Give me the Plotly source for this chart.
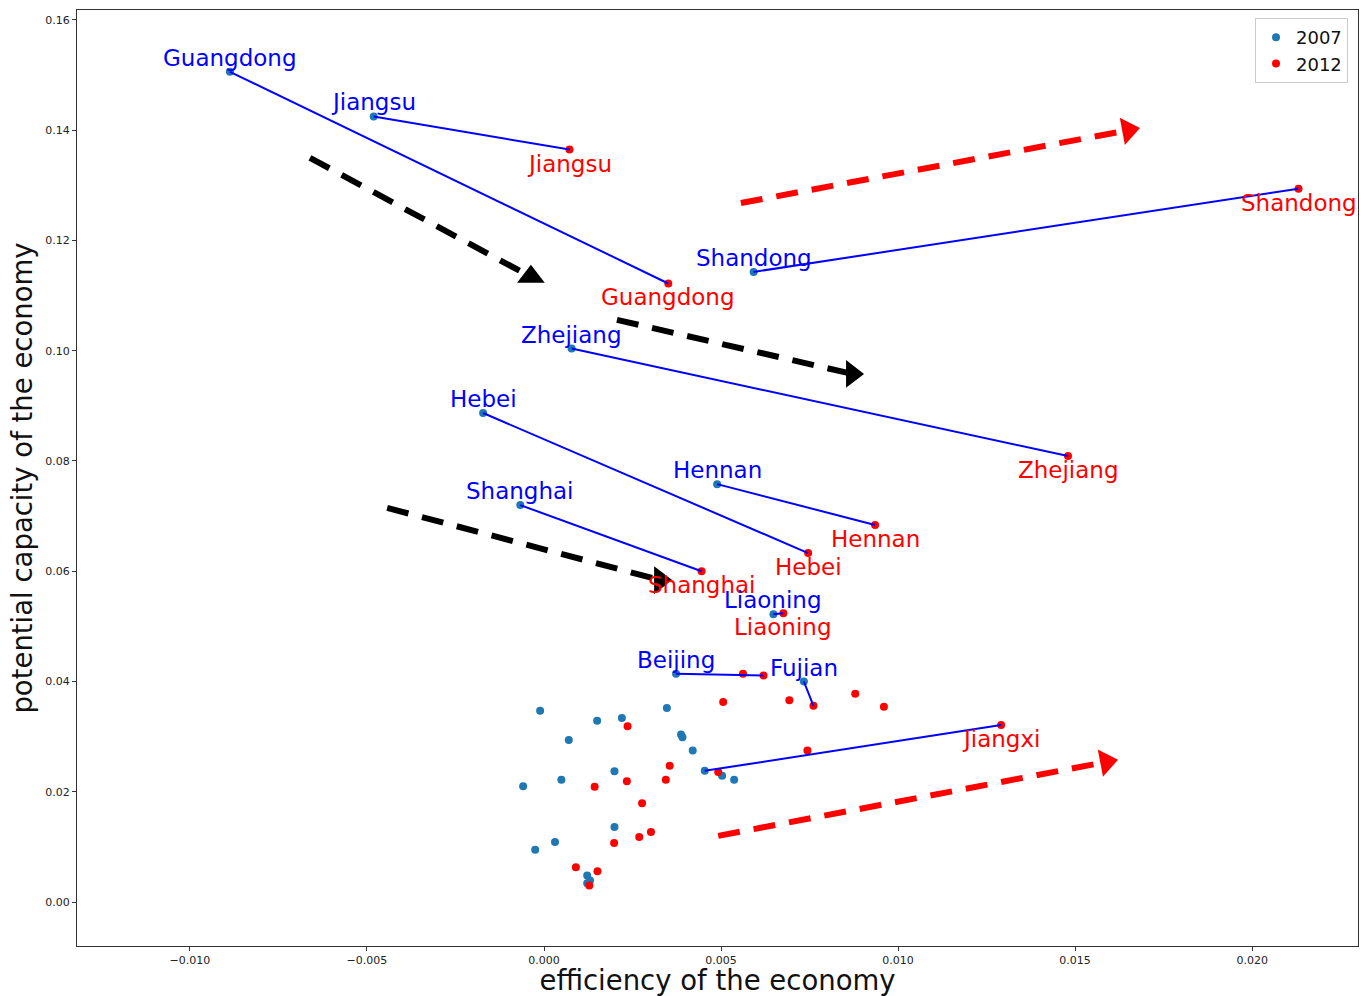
import plotly.graph_objects as go

# ---- labelled provinces (2007 -> 2012) ----
provinces = ["Guangdong", "Jiangsu", "Shandong", "Zhejiang", "Hebei", "Hennan",
             "Shanghai", "Liaoning", "Beijing", "Fujian", "Jiangxi"]
x2007_lab = [-0.00887, -0.00481, 0.00592, 0.00078, -0.00172, 0.00489,
             -0.00067, 0.00648, 0.00373, 0.00734, 0.00454]
y2007_lab = [0.1506, 0.1425, 0.1143, 0.1004, 0.0887, 0.0758,
             0.0720, 0.0522, 0.0414, 0.0400, 0.0238]
x2012_lab = [0.00351, 0.00072, 0.02131, 0.01480, 0.00746, 0.00935,
             0.00445, 0.00676, 0.00620, 0.00761, 0.01291]
y2012_lab = [0.1122, 0.1365, 0.1294, 0.0809, 0.0633, 0.0684,
             0.0600, 0.0524, 0.0411, 0.0356, 0.0321]
# which ends carry a text label
label_2007 = [True, True, True, True, True, True, True, True, True, True, False]
label_2012 = [True, True, True, True, True, True, True, True, False, False, True]

# ---- unlabelled provinces ----
x2007_other = [-0.00011, 0.00150, 0.00220, 0.00347, 0.00070, 0.00387, 0.00391,
               0.00420, 0.00503, 0.00537, -0.00059, 0.00049, 0.00199, 0.00199,
               0.00031, -0.00025, 0.00122, 0.00130, 0.00122]
y2007_other = [0.0347, 0.0329, 0.0334, 0.0352, 0.0294, 0.0304, 0.0299,
               0.0275, 0.0229, 0.0222, 0.0210, 0.0222, 0.0237, 0.0136,
               0.0109, 0.0095, 0.0048, 0.0039, 0.0034]
x2012_other = [0.00562, 0.00506, 0.00236, 0.00355, 0.00344, 0.00234, 0.00143,
               0.00492, 0.00277, 0.00302, 0.00269, 0.00198, 0.00090, 0.00151,
               0.00128, 0.00693, 0.00879, 0.00960, 0.00744]
y2012_other = [0.0414, 0.0363, 0.0319, 0.0247, 0.0222, 0.0219, 0.0209,
               0.0236, 0.0179, 0.0127, 0.0118, 0.0107, 0.0063, 0.0056,
               0.0030, 0.0366, 0.0378, 0.0354, 0.0275]

# ---- trend arrows: start, end (head centre), colour, head symbol ----
arrow_x0 = [-0.00661, 0.00206, -0.00443, 0.00556, 0.00492]
arrow_y0 = [0.1350, 0.1056, 0.0715, 0.1268, 0.0120]
arrow_x1 = [-0.00037, 0.00870, 0.00328, 0.01650, 0.01588]
arrow_y1 = [0.1134, 0.0958, 0.0584, 0.1400, 0.0254]
arrow_colors = ["#000000", "#000000", "#000000", "#ff0000", "#ff0000"]
arrow_heads = ["triangle-up", "triangle-right", "triangle-right", "triangle-up", "triangle-up"]
arrow_angleref = ["up", "up", "up", "previous", "previous"]

x_ticks = [-0.010, -0.005, 0.000, 0.005, 0.010, 0.015, 0.020]
y_ticks = [0.00, 0.02, 0.04, 0.06, 0.08, 0.10, 0.12, 0.14, 0.16]

BLUE_DOT = "#1f77b4"
RED = "#ff0000"
BLUE = "#0000ff"

fig = go.Figure()

fig.add_trace(go.Scatter(
    x=x2007_lab + x2007_other, y=y2007_lab + y2007_other, mode="markers",
    marker=dict(color=BLUE_DOT, size=8, opacity=1), name="2007"))
fig.add_trace(go.Scatter(
    x=x2012_lab + x2012_other, y=y2012_lab + y2012_other, mode="markers",
    marker=dict(color=RED, size=8, opacity=1), name="2012"))

# connecting lines
for i in range(len(provinces)):
    fig.add_trace(go.Scatter(
        x=[x2007_lab[i], x2012_lab[i]], y=[y2007_lab[i], y2012_lab[i]],
        mode="lines", line=dict(color=BLUE, width=2), showlegend=False,
        hoverinfo="skip"))

# arrows: dashed shaft + solid head
for i in range(len(arrow_x0)):
    fig.add_trace(go.Scatter(
        x=[arrow_x0[i], arrow_x1[i]], y=[arrow_y0[i], arrow_y1[i]],
        mode="lines",
        line=dict(color=arrow_colors[i], width=6, dash="22px,14px"),
        showlegend=False, hoverinfo="skip"))
    fig.add_trace(go.Scatter(
        x=[arrow_x0[i], arrow_x1[i]], y=[arrow_y0[i], arrow_y1[i]],
        mode="markers",
        marker=dict(symbol=arrow_heads[i], size=[0, 24], opacity=1,
                    color=arrow_colors[i], angleref=arrow_angleref[i],
                    line=dict(width=0, color=arrow_colors[i])),
        showlegend=False, hoverinfo="skip"))

# labels
for i, p in enumerate(provinces):
    if label_2007[i]:
        fig.add_annotation(x=x2007_lab[i], y=y2007_lab[i], text=p, showarrow=False,
                           xanchor="center", yanchor="bottom", borderpad=0,
                           font=dict(family="DejaVu Sans", size=23, color=BLUE))
    if label_2012[i]:
        fig.add_annotation(x=x2012_lab[i], y=y2012_lab[i], text=p, showarrow=False,
                           xanchor="center", yanchor="top", borderpad=0,
                           font=dict(family="DejaVu Sans", size=23, color=RED))

axis_common = dict(showgrid=False, zeroline=False, showline=True, mirror=True,
                   linecolor="#333333", linewidth=1, ticks="outside", ticklen=4,
                   tickcolor="#333333",
                   tickfont=dict(family="DejaVu Sans", size=11, color="#222222"))

fig.update_xaxes(range=[-0.01319, 0.02299], tickvals=x_ticks, tickformat=".3f",
                 title=dict(text="efficiency of the economy", standoff=6,
                            font=dict(family="DejaVu Sans", size=27.5, color="#111111")),
                 automargin=False, **axis_common)
fig.update_yaxes(range=[-0.00798, 0.16181], tickvals=y_ticks, tickformat=".2f",
                 title=dict(text="potential capacity of the economy", standoff=4,
                            font=dict(family="DejaVu Sans", size=27.5, color="#111111")),
                 automargin=False, **axis_common)

fig.update_layout(
    width=1367, height=996,
    margin=dict(l=77, r=9, t=10, b=50),
    plot_bgcolor="white", paper_bgcolor="white",
    legend=dict(x=0.9922, y=0.9915, xanchor="right", yanchor="top",
                bgcolor="white", bordercolor="#cccccc", borderwidth=1,
                font=dict(family="DejaVu Sans", size=18, color="#111111")),
    hovermode=False,
)

fig.write_html(
    "out.html",
    config={"displayModeBar": False},
    post_script="document.body.style.margin='0';document.body.style.overflow='hidden';",
)
